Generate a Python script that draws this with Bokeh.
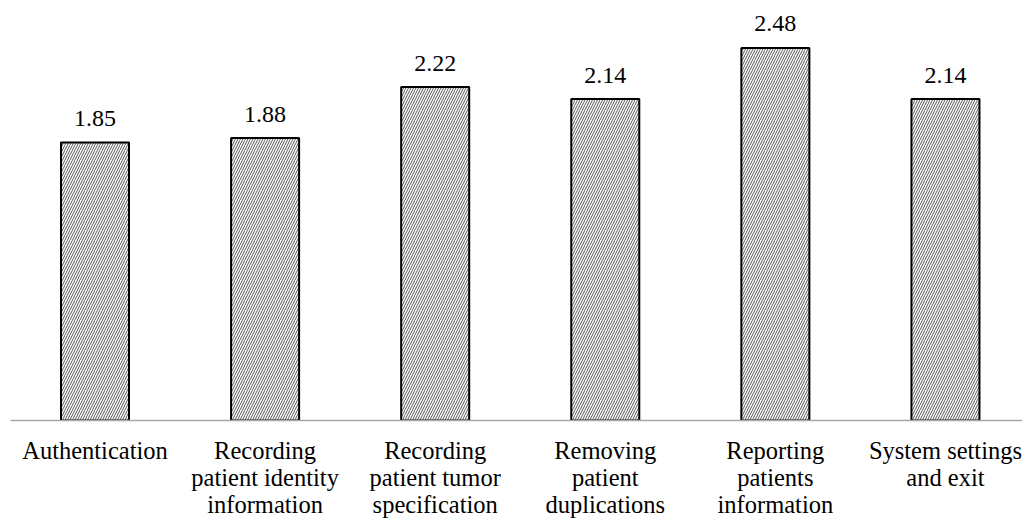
from bokeh.plotting import figure
from bokeh.models import Range1d, FixedTicker, ColumnDataSource
from bokeh.core.properties import value
from bokeh.embed import file_html
from bokeh.resources import INLINE

categories = [
    "Authentication",
    "Recording\npatient identity\ninformation",
    "Recording\npatient tumor\nspecification",
    "Removing\npatient\nduplications",
    "Reporting\npatients\ninformation",
    "System settings\nand exit",
]
scores = [1.85, 1.88, 2.22, 2.14, 2.48, 2.14]
score_labels = ["1.85", "1.88", "2.22", "2.14", "2.48", "2.14"]

positions = list(range(len(categories)))
source = ColumnDataSource(dict(x=positions, top=scores, label=score_labels))

p = figure(
    frame_width=1012, frame_height=420,
    x_range=Range1d(-0.4968, 5.453), y_range=Range1d(0, 2.796),
    output_backend="svg", toolbar_location=None, y_axis_location=None,
    min_border=0, min_border_left=10, outline_line_color=None,
)
p.xgrid.visible = False
p.ygrid.visible = False

p.vbar(x="x", top="top", width=0.4, bottom=0, source=source,
       fill_color="white", line_color="black", line_width=2,
       hatch_pattern="/", hatch_scale=5, hatch_weight=1, hatch_color="#555555")

p.text(x="x", y="top", text="label", source=source, y_offset=-24,
       text_align="center", text_baseline="alphabetic",
       text_font=value("Liberation Serif"), text_font_size="24px", text_color="black")

ax = p.xaxis[0]
ax.ticker = FixedTicker(ticks=positions)
ax.major_label_overrides = {i: c for i, c in enumerate(categories)}
ax.axis_line_color = "#a6a6a6"
ax.axis_line_width = 1.5
ax.major_tick_line_color = None
ax.minor_tick_line_color = None
ax.major_label_text_font = "Liberation Serif"
ax.major_label_text_font_size = "24.5px"
ax.major_label_text_color = "black"
ax.major_label_standoff = 10
ax.major_label_text_line_height = 1.0

open("out.html", "w").write(file_html(p, INLINE))
